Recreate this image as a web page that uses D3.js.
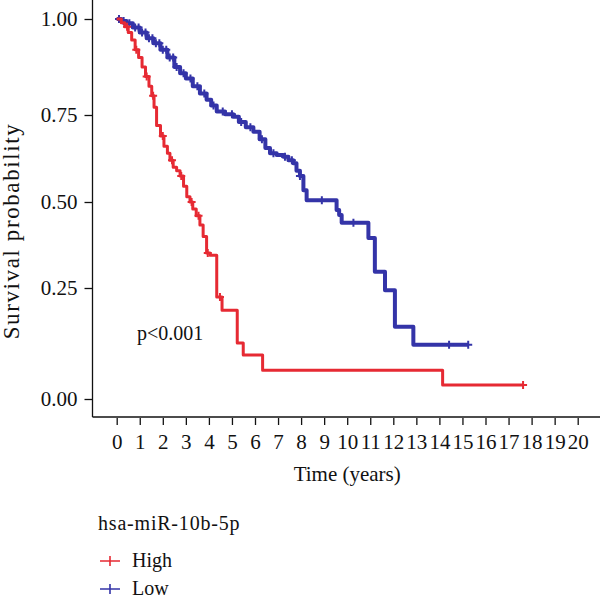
<!DOCTYPE html>
<html>
<head>
<meta charset="utf-8">
<script src="https://cdn.jsdelivr.net/npm/d3@7"></script>
<style>
  body { margin: 0; background: #fff; }
  text { font-family: "Liberation Serif", "DejaVu Serif", serif; fill: #111; }
</style>
</head>
<body>
<svg></svg>
<script>
const size = {w: 600, h: 604};
const svg = d3.select('svg')
    .attr('width', size.w)
    .attr('height', size.h);

// ---- data ----
// high expression group: event times (years) and survival after each step
const highTimes = [0.2, 0.35, 0.5, 0.65, 0.8, 0.95, 1.1, 1.25, 1.4, 1.52, 1.62, 1.73, 1.9, 2.05, 2.2, 2.31,
    2.45, 2.6, 2.75, 2.9, 3.04, 3.18, 3.3, 3.45, 3.61, 3.75, 3.9, 4.05, 4.34, 4.57, 5.23, 5.49, 6.33, 14.14];
const highSurv = [0.99, 0.98, 0.965, 0.945, 0.92, 0.9, 0.875, 0.85, 0.825, 0.8, 0.77, 0.72, 0.69, 0.66, 0.64, 0.62,
    0.6, 0.59, 0.575, 0.545, 0.515, 0.5, 0.48, 0.46, 0.433, 0.4, 0.352, 0.345, 0.23, 0.2, 0.126, 0.099, 0.065, 0.0315];
const highEnd = 17.63;
const highCensor = [0.45, 0.85, 1.3, 1.58, 2.0, 2.4, 2.8, 3.25, 3.55, 3.95, 4.48, 17.63];

// low expression group
const lowTimes = [0.2, 0.43, 0.7, 1.0, 1.3, 1.59, 1.9, 2.2, 2.5, 2.75, 3.0, 3.3, 3.61, 3.9, 4.1, 4.34, 4.7,
    5.06, 5.3, 5.6, 5.93, 6.2, 6.45, 6.65, 6.94, 7.23, 7.45, 7.66, 7.8, 7.95, 8.1, 8.24, 9.54, 9.65, 9.76,
    10.92, 11.2, 11.64, 12.07, 12.87];
const lowSurv = [0.995, 0.989, 0.978, 0.965, 0.95, 0.937, 0.92, 0.9, 0.875, 0.859, 0.845, 0.825, 0.806, 0.79,
    0.775, 0.759, 0.752, 0.745, 0.73, 0.715, 0.702, 0.68, 0.655, 0.64, 0.635, 0.63, 0.62, 0.611, 0.59, 0.575,
    0.534, 0.505, 0.477, 0.462, 0.44, 0.395, 0.297, 0.245, 0.163, 0.122];
const lowEnd = 15.25;
const lowCensor = [0.1, 0.3, 0.55, 0.8, 0.95, 1.1, 1.25, 1.4, 1.55, 1.7, 1.85, 2.0, 2.15, 2.3, 2.45, 2.6,
    2.9, 3.2, 3.5, 3.8, 4.2, 4.6, 5.0, 5.4, 5.8, 6.3, 6.8, 7.3, 7.6, 7.95, 8.9, 10.27, 14.42, 15.25];

const xTicks = d3.range(0, 21);
const yTicks = [0, 0.25, 0.5, 0.75, 1];
const groups = ['High', 'Low'];
const colors = ['#e62a33', '#3434a8'];
const legendTitle = 'hsa-miR-10b-5p';
const pLabel = 'p<0.001';

// ---- scales ----
const x = d3.scaleLinear().domain([0, 20]).range([116.7, 577.7]);
// the scanned picture is not evenly spaced vertically, so map each tick
const y = d3.scaleLinear().domain(yTicks).range([399, 288, 202, 115, 19]);

// ---- axes ----
const plotBottom = 417, plotLeft = 92.5;

svg.append('line')
    .attr('x1', plotLeft).attr('x2', plotLeft)
    .attr('y1', 0).attr('y2', plotBottom)
    .attr('stroke', '#111').attr('stroke-width', 1.3);
svg.append('line')
    .attr('x1', plotLeft).attr('x2', size.w)
    .attr('y1', plotBottom).attr('y2', plotBottom)
    .attr('stroke', '#111').attr('stroke-width', 1.3);

const yAxis = svg.append('g')
    .attr('transform', `translate(${plotLeft},0)`)
    .call(d3.axisLeft(y).tickValues(yTicks).tickFormat(d3.format('.2f')).tickSize(8).tickPadding(7));
yAxis.select('.domain').remove();

const xAxis = svg.append('g')
    .attr('transform', `translate(0,${plotBottom + 1})`)
    .call(d3.axisBottom(x).tickValues(xTicks).tickFormat(d3.format('d')).tickSize(7).tickPadding(9));
xAxis.select('.domain').remove();

svg.selectAll('.tick line').attr('stroke', '#111').attr('stroke-width', 1.3);
svg.selectAll('.tick text')
    .style('font-family', '"Liberation Serif", serif')
    .style('font-size', '21px')
    .attr('fill', '#111');

// axis titles
svg.append('text')
    .attr('x', x(10)).attr('y', 481)
    .attr('text-anchor', 'middle')
    .style('font-size', '21px')
    .text('Time (years)');

svg.append('text')
    .attr('transform', 'translate(19,231) rotate(-90)')
    .attr('text-anchor', 'middle')
    .style('font-size', '23px')
    .style('letter-spacing', '1.6px')
    .text('Survival probability');

// ---- curves ----
function stepPoints(times, surv, end) {
    let pts = [[0, 1]];
    times.forEach((t, i) => pts.push([t, surv[i]]));
    pts.push([end, surv[surv.length - 1]]);
    return pts;
}

function survAt(times, surv, t) {
    let i = d3.bisectRight(times, t);
    return i === 0 ? 1 : surv[i - 1];
}

const line = d3.line()
    .x(d => x(d[0]))
    .y(d => y(d[1]))
    .curve(d3.curveStepAfter);

const series = [
    {name: 'High', times: highTimes, surv: highSurv, end: highEnd, censor: highCensor, color: colors[0], w: 3},
    {name: 'Low', times: lowTimes, surv: lowSurv, end: lowEnd, censor: lowCensor, color: colors[1], w: 4}
];

// draw low first so high sits on top near the origin
[series[1], series[0]].forEach(s => {
    svg.append('path')
        .attr('d', line(stepPoints(s.times, s.surv, s.end)))
        .attr('fill', 'none')
        .attr('stroke', s.color)
        .attr('stroke-width', s.w)
        .attr('stroke-linejoin', 'round');

    // censor marks as small crosses
    svg.append('g').selectAll('path')
        .data(s.censor)
        .join('path')
        .attr('transform', t => `translate(${x(t)},${y(survAt(s.times, s.surv, t))})`)
        .attr('d', 'M-4,0H4M0,-4V4')
        .attr('stroke', s.color)
        .attr('stroke-width', 2);
});

// p value
svg.append('text')
    .attr('x', 137).attr('y', 340)
    .style('font-size', '20px')
    .text(pLabel);

// ---- legend ----
svg.append('text')
    .attr('x', 98).attr('y', 530)
    .style('font-size', '20px')
    .style('letter-spacing', '0.8px')
    .text(legendTitle);

const legendG = svg.append('g')
    .selectAll('g')
    .data(groups)
    .join('g')
    .attr('transform', (d, i) => `translate(100,${561 + i * 28})`);

legendG.append('path')
    .attr('d', 'M0,0H20M10,-5V5')
    .attr('stroke', (d, i) => colors[i])
    .attr('stroke-width', 1.6);

legendG.append('text')
    .attr('x', 32).attr('y', 6)
    .style('font-size', '20px')
    .text(d => d);
</script>
</body>
</html>
